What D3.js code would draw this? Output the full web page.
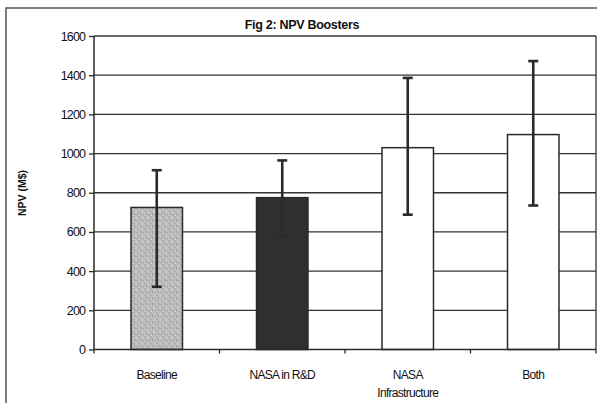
<!DOCTYPE html>
<html><head><meta charset="utf-8">
<script src="https://cdn.jsdelivr.net/npm/d3@7"></script>
<style>body{margin:0;background:#fff}svg{display:block}</style>
</head><body>
<script>
const categories = [["Baseline"], ["NASA in R&D"], ["NASA", "Infrastructure"], ["Both"]];
const values = [725, 775, 1030, 1097];
const errLow = [320, 580, 688, 735];
const errHigh = [915, 965, 1386, 1472];
const yTicks = [0, 200, 400, 600, 800, 1000, 1200, 1400, 1600];
const fills = ["url(#stipple)", "#2f2f2f", "#ffffff", "#ffffff"];

const W = 597, H = 403;
const svg = d3.select("body").append("svg").attr("width", W).attr("height", H);
const defs = svg.append("defs");
const pat = defs.append("pattern").attr("id", "stipple").attr("patternUnits", "userSpaceOnUse")
  .attr("width", 6).attr("height", 6);
pat.append("rect").attr("width", 6).attr("height", 6).attr("fill", "#bcbcbc");
[[0.5,0.5,"#8a8a8a"],[3.5,1.5,"#e6e6e6"],[2,3.5,"#7d7d7d"],[4.8,4.5,"#9a9a9a"],[1,5,"#dedede"],[4.5,0.2,"#cfcfcf"]]
  .forEach(([px,py,c]) => pat.append("rect").attr("x",px).attr("y",py).attr("width",1).attr("height",1).attr("fill",c));

const FONT = "Arial, 'Liberation Sans', sans-serif";
// outer frame
svg.append("path").attr("d", `M6,${H} V8 H${W}`).attr("fill","none").attr("stroke","#555").attr("stroke-width",1.5);

const pL = 94, pR = 596, pT = 36, pB = 349.5;
const x = d3.scaleBand().domain(d3.range(categories.length)).range([pL, pR]).paddingInner(0.59).paddingOuter(0.295);
const xb = d3.scaleBand().domain(d3.range(categories.length)).range([pL, pR]);
const y = d3.scaleLinear().domain([0, 1600]).range([pB, pT]);

// gridlines
svg.append("g").selectAll("line").data(yTicks.filter(d => d > 0)).join("line")
  .attr("x1", pL).attr("x2", pR).attr("y1", d => y(d)).attr("y2", d => y(d))
  .attr("stroke", "#333").attr("stroke-width", 1.3);
svg.append("line").attr("x1", pR).attr("x2", pR).attr("y1", pT).attr("y2", pB).attr("stroke","#333").attr("stroke-width",1.3);

// bars
svg.append("g").selectAll("rect").data(values).join("rect")
  .attr("x", (d,i) => x(i)).attr("width", x.bandwidth())
  .attr("y", d => y(d)).attr("height", d => y(0) - y(d))
  .attr("fill", (d,i) => fills[i]).attr("stroke", "#2a2a2a").attr("stroke-width", 1.5);

// error bars
const eg = svg.append("g").attr("stroke", "#2a2a2a").attr("stroke-width", 2.6);
values.forEach((v,i) => {
  const cx = x(i) + x.bandwidth()/2;
  eg.append("line").attr("x1",cx).attr("x2",cx).attr("y1",y(errLow[i])).attr("y2",y(errHigh[i]));
  eg.append("line").attr("x1",cx-5).attr("x2",cx+5).attr("y1",y(errLow[i])).attr("y2",y(errLow[i]));
  eg.append("line").attr("x1",cx-5).attr("x2",cx+5).attr("y1",y(errHigh[i])).attr("y2",y(errHigh[i]));
});

// y axis
const ya = svg.append("g").attr("transform", `translate(${pL},0)`)
  .call(d3.axisLeft(y).tickValues(yTicks).tickFormat(d3.format("d")).tickSize(5).tickPadding(4));
ya.select(".domain").attr("stroke","#2a2a2a").attr("stroke-width",1.5).attr("d", `M0,${pT}V${pB}`);
ya.selectAll(".tick line").attr("stroke","#2a2a2a").attr("stroke-width",1.3);
ya.selectAll("text").attr("font-family",FONT).attr("font-size",12.5).attr("fill","#111").attr("letter-spacing","-0.9");

// x axis
const xa = svg.append("g").attr("transform", `translate(0,${pB})`);
xa.append("line").attr("x1",pL).attr("x2",pR).attr("stroke","#2a2a2a").attr("stroke-width",1.5);
xa.selectAll("line.t").data(d3.range(categories.length+1)).join("line").attr("class","t")
  .attr("x1", i => pL + i*xb.bandwidth()).attr("x2", i => pL + i*xb.bandwidth())
  .attr("y1",0).attr("y2",4).attr("stroke","#2a2a2a").attr("stroke-width",1.3);
const lbl = xa.selectAll("text").data(categories).join("text")
  .attr("text-anchor","middle").attr("font-family",FONT)
  .attr("font-size",12).attr("fill","#111").attr("letter-spacing","-0.7")
  .attr("transform",(d,i) => `translate(${xb(i)+xb.bandwidth()/2},29.5)`);
lbl.selectAll("tspan").data(d => d).join("tspan").attr("x",0).attr("dy",(d,j)=> j ? 18 : 0).text(d=>d);

// title
svg.append("text").attr("x", 302).attr("y", 29).attr("text-anchor","middle")
  .attr("font-family",FONT).attr("font-weight","bold").attr("font-size",12.5)
  .attr("fill","#111").attr("letter-spacing","-0.3").text("Fig 2: NPV Boosters");
// y label
svg.append("text").attr("transform","translate(26,193) rotate(-90)").attr("text-anchor","middle")
  .attr("font-family",FONT).attr("font-weight","bold").attr("font-size",10.5)
  .attr("fill","#111").text("NPV (M$)");
</script>
</body></html>
